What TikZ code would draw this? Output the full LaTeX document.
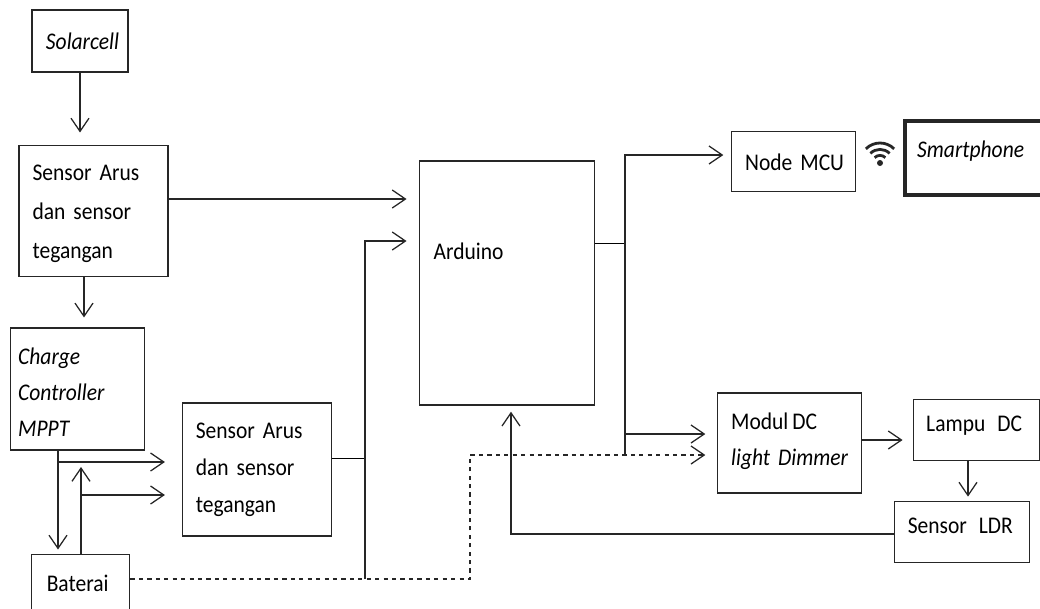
\documentclass[tikz,border=0pt]{standalone}
\usepackage{fontspec}
\setmainfont[FakeStretch=0.9]{Carlito}
\usetikzlibrary{arrows.meta}
\tikzstyle{block} = [
    rectangle,
    draw=black!85,
    line width=0.9pt,
    inner sep=0pt,
    align=left,
    font=\fontsize{17}{27.7}\selectfont
]
\tikzstyle{arrow} = [line width=1pt,draw=black!85,->,>={Straight Barb[length=0.33cm,width=0.45cm,line width=0.9pt]}]
\tikzstyle{wifi} = [line width=2pt,draw=black!85]

\begin{document}
\begin{tikzpicture}[x=0.025cm,y=-0.025cm,node distance=1.5cm]
\useasboundingbox (0,0) rectangle (1040,608);

\node (solar) [block, minimum width=2.4cm, minimum height=1.55cm, text width=2cm] at (80,41)
{\hspace*{0.15cm}\mbox{\textit{Solarcell}}};

\node (sensorA) [block, below of=solar, xshift=0.34cm, yshift=-2.74cm, minimum width=3.725cm, minimum height=3.275cm, text width=3.05cm, text height=0.55cm]
{Sensor Arus\\dan sensor\\tegangan};

\node (charge) [block, below of=sensorA, xshift=-0.41cm, yshift=-2.96cm, minimum width=3.35cm, minimum height=3.05cm, text width=2.95cm, text height=0.55cm, font=\fontsize{17}{25.6}\selectfont]
{\textit{Charge}\\\textit{Controller}\\\textit{MPPT}};

\node (baterai) [block, below of=charge, xshift=0.09cm, yshift=-3.35cm, minimum width=2.45cm, minimum height=1.45cm, text width=1.7cm]
{\mbox{Baterai}};

\node (sensorB) [block, right of=charge, xshift=2.99cm, yshift=-2.01cm, minimum width=3.725cm, minimum height=3.325cm, text width=3.05cm, font=\fontsize{17}{26.3}\selectfont]
{Sensor Arus\\dan sensor\\tegangan};

\node (arduino) [block, right of=sensorA, xshift=8.825cm, yshift=-1.81cm, minimum width=4.375cm, minimum height=6.1cm, text width=3.65cm, text depth=1.6cm]
{Arduino};

\node (nodemcu) [block, right of=arduino, xshift=5.66cm, yshift=3.03cm, minimum width=3.1cm, minimum height=1.5cm, text width=2.4cm]
{\mbox{Node MCU}};

\node (smartphone) [block, right of=nodemcu, xshift=3.1cm, yshift=0.1cm, line width=3pt, minimum width=3.6cm, minimum height=1.85cm, text width=3cm, text depth=0.45cm]
{\mbox{\textit{Smartphone}}};

\node (modul) [block, right of=arduino, xshift=5.56cm, yshift=-4cm, minimum width=3.6cm, minimum height=2.5cm, text width=2.9cm, text depth=1.1cm, font=\fontsize{17}{25.6}\selectfont]
{\mbox{Modul\,DC}\\\mbox{\textit{light Dimmer}}};

\node (lampu) [block, right of=modul, xshift=3.175cm, yshift=0.325cm, minimum width=3.15cm, minimum height=1.525cm, text width=2.5cm, text depth=0.3cm]
{\mbox{Lampu\ \,DC}};

\node (ldr) [block, below of=lampu, xshift=-0.36cm, yshift=-1.04cm, minimum width=3.375cm, minimum height=1.525cm, text width=2.7cm, text depth=0.3cm]
{\mbox{Sensor\ \,LDR}};

% bus lines
\coordinate (busA) at (365,241);
\coordinate (busB) at (365,579);
\coordinate (busC) at (625,155);
\coordinate (busD) at (625,455);
\coordinate (dashA) at (470,579);
\coordinate (dashB) at (470,455);
\coordinate (tapA) at (58,462);
\coordinate (tapB) at (81,495);
\coordinate (topB) at (81,467);
\coordinate (rowA) at (0,199);
\coordinate (rowB) at (0,458);
\coordinate (rowC) at (0,243);
\coordinate (rowD) at (0,434);
\coordinate (rowE) at (0,440);
\coordinate (rowF) at (0,534);
\coordinate (colA) at (84,0);
\coordinate (colB) at (968,0);
\coordinate (colC) at (511,0);

\draw [arrow, shorten >=0.3cm] (solar.south) -- (solar.south |- sensorA.north);
\draw [arrow, shorten >=0.3cm] (sensorA.east |- rowA) -- (arduino.west |- rowA);
\draw [arrow, shorten >=0.25cm] (colA |- sensorA.south) -- (colA |- charge.north);

\draw (sensorB.east |- rowB) -- (busA |- rowB);
\draw [arrow, shorten >=0.3cm] (busB) -- (busA) -- (arduino.west |- busA);

\draw [arrow, shorten >=0.1cm] (tapA |- charge.south) -- (tapA |- baterai.north);
\draw [arrow, shorten >=0.42cm] (tapA) -- (sensorB.west |- tapA);
\draw [arrow] (topB |- baterai.north) -- (topB);
\draw [arrow, shorten >=0.42cm] (tapB) -- (sensorB.west |- tapB);

\draw [arrow, dashed, shorten >=0.28cm] (baterai.east |- busB) -- (dashA) -- (dashB) -- (modul.west |- dashB);

\draw (arduino.east |- rowC) -- (busC |- rowC);
\draw [arrow, shorten >=0.18cm] (busD) -- (busC) -- (nodemcu.west |- busC);
\draw [arrow, shorten >=0.28cm] (busC |- rowD) -- (modul.west |- rowD);

\draw [arrow, shorten >=0.25cm] (modul.east |- rowE) -- (lampu.west |- rowE);
\draw [arrow, shorten >=0.1cm] (colB |- lampu.south) -- (colB |- ldr.north);
\draw [arrow, shorten >=0.15cm] (ldr.west |- rowF) -- (colC |- rowF) -- (colC |- arduino.south);

% wifi icon
\node (wifidot) [circle, fill=black!85, inner sep=0pt, minimum size=0.15cm] at (880,163) {};
\draw [wifi] ([shift={(45:0.19cm)}]wifidot.center) arc (45:135:0.19cm);
\draw [wifi] ([shift={(45:0.34cm)}]wifidot.center) arc (45:135:0.34cm);
\draw [wifi] ([shift={(45:0.5cm)}]wifidot.center) arc (45:135:0.5cm);

\end{tikzpicture}
\end{document}
